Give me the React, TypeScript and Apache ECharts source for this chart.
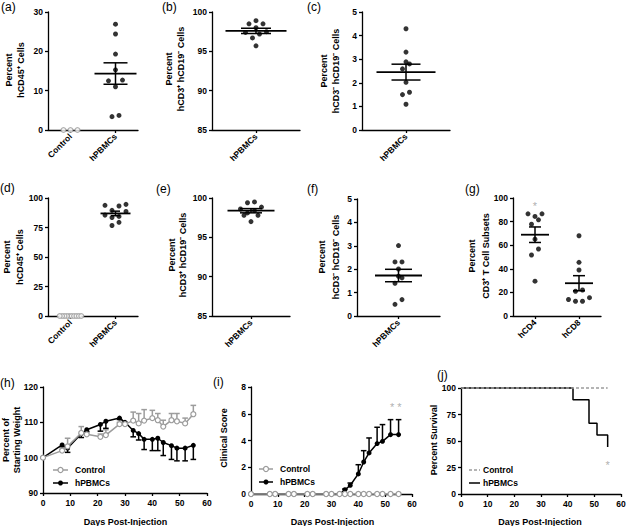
import React, { useEffect, useRef } from 'react';
import * as echarts from 'echarts';

const FONT = '"Liberation Sans", Arial, Helvetica, sans-serif';
const BLACK = '#000000';
const GRAY = '#9c9c9c';

// ---------- data: dot plots ----------
const A_CATEGORIES = ['Control', 'hPBMCs'];
const A_Y_TICKS = [0, 10, 20, 30];
const A_CONTROL = [0, 0, 0];
const A_HPBMC = [26.9, 24.4, 19.3, 15.3, 12.5, 12.7, 11.0, 3.4, 3.7];

const B_CATEGORIES = ['hPBMCs'];
const B_Y_TICKS = [85, 90, 95, 100];
const B_HPBMC = [98.5, 98.0, 98.5, 98.9, 97.5, 97.2, 97.4, 96.7, 95.7];

const C_CATEGORIES = ['hPBMCs'];
const C_Y_TICKS = [0, 1, 2, 3, 4, 5];
const C_HPBMC = [4.29, 3.3, 2.8, 2.89, 2.59, 2.02, 1.6, 1.5, 1.09];

const D_CATEGORIES = ['Control', 'hPBMCs'];
const D_Y_TICKS = [0, 25, 50, 75, 100];
const D_CONTROL = [0, 0, 0, 0, 0, 0, 0, 0, 0, 0];
const D_HPBMC = [93.8, 93.2, 94.6, 89.5, 88.6, 85.5, 84.4, 83.5, 79.4, 76.7];

const E_CATEGORIES = ['hPBMCs'];
const E_Y_TICKS = [85, 90, 95, 100];
const E_HPBMC = [99.4, 99.5, 98.6, 98.85, 98.4, 97.8, 98.1, 97.8, 97.0];

const F_CATEGORIES = ['hPBMCs'];
const F_Y_TICKS = [0, 1, 2, 3, 4, 5];
const F_HPBMC = [3.01, 2.31, 2.31, 2.01, 1.63, 1.7, 1.4, 0.5, 0.7];

const G_CATEGORIES = ['hCD4', 'hCD8'];
const G_Y_TICKS = [0, 20, 40, 60, 80, 100];
const G_CD4 = [86.6, 84.4, 86.6, 81.5, 77.8, 65.1, 56.8, 51.7, 29.5];
const G_CD8 = [68, 45.5, 39, 22, 21, 15.5, 14, 12.5, 12.5];
const G_STAR = [[0, 93.6]];

// ---------- data: time courses ----------
const DAYS = [0, 7, 9, 14, 16, 21, 23, 28, 30, 33, 35, 37, 40, 42, 44, 47, 49, 52, 55];
const X_TICKS = [0, 10, 20, 30, 40, 50, 60];

const H_Y_TICKS = [90, 100, 110, 120];
const H_CONTROL = [100, 102.0, 103.2, 107.0, 106.6, 105.9, 106.4, 109.5, 109.5, 110.5, 109.7, 110.5, 111.2, 110.6, 108.8, 110.6, 110.3, 109.7, 112.3];
const H_CONTROL_SEM = [0, 0.4, 2.3, 1.8, 0.5, 0.8, 1.5, 0.5, 0.6, 2.4, 2.8, 3.1, 2.2, 1.9, 1.8, 1.9, 2.2, 1.5, 2.5];
const H_HPBMC = [100, 103.6, 102.7, 106.8, 107.9, 109.4, 110.3, 111.2, 110.0, 107.7, 106.8, 105.2, 105.2, 105.5, 104.3, 103.4, 102.7, 102.7, 103.5];
const H_HPBMC_SEM = [0, 0.5, 1.2, 1.1, 0.5, 1.9, 2.0, 0.4, 0.6, 1.8, 1.8, 2.9, 3.2, 3.5, 3.7, 3.9, 3.6, 3.6, 4.0];

const I_Y_TICKS = [0, 2, 4, 6, 8];
const I_CONTROL = [0, 0, 0, 0, 0, 0, 0, 0, 0, 0, 0, 0, 0, 0, 0, 0, 0, 0, 0];
const I_HPBMC = [0, 0, 0, 0, 0, 0, 0, 0, 0, 0, 0.32, 0.65, 1.5, 2.39, 3.07, 3.77, 3.94, 4.44, 4.44];
const I_HPBMC_SEM = [0, 0, 0, 0, 0, 0, 0, 0, 0, 0, 0.05, 0.17, 0.69, 0.85, 1.12, 1.22, 1.25, 1.12, 1.12];
const I_STARS = [[52.6, 6.47], [55.3, 6.47]];

const J_Y_TICKS = [0, 25, 50, 75, 100];
const J_CONTROL_DAYS = [0, 55];
const J_CONTROL = [100, 100];
const J_HPBMC_DAYS = [0, 42, 48, 51, 55];
const J_HPBMC = [100, 88.9, 66.7, 55.6, 44.4];
const J_STAR = [[55, 27.8]];

// ---------- helpers ----------
function swarm(values: number[], pxPerUnit: number, catW: number) {
  const spacing = 7;
  const rowTol = 7;
  const maxHalf = 0.24 * catW;
  const idx = values.map((_, i) => i).sort((a, b) => values[a] - values[b]);
  const offsets = new Array(values.length).fill(0);
  let row: number[] = [];
  let start = 0;
  const flush = () => {
    const k = row.length;
    let s = spacing;
    if (k > 1 && ((k - 1) * s) / 2 > maxHalf) s = (2 * maxHalf) / (k - 1);
    row.forEach((id, j) => {
      let off = 0;
      if (k % 2 === 1) {
        const m = Math.ceil(j / 2);
        off = j === 0 ? 0 : j % 2 === 1 ? -m * s : m * s;
      } else {
        const m = Math.floor(j / 2);
        off = (j % 2 === 0 ? -1 : 1) * (m + 0.5) * s;
      }
      offsets[id] = off / catW;
    });
    row = [];
  };
  idx.forEach((id) => {
    const y = values[id] * pxPerUnit;
    if (row.length && y - start > rowTol) flush();
    if (!row.length) start = y;
    row.push(id);
  });
  if (row.length) flush();
  return offsets;
}

function meanSem(v: number[]) {
  const n = v.length;
  const m = v.reduce((a, b) => a + b, 0) / n;
  const sd = Math.sqrt(v.reduce((a, b) => a + (b - m) * (b - m), 0) / (n - 1));
  return [m, sd / Math.sqrt(n)];
}

type Group = { values: number[]; open?: boolean };
type DotPanel = {
  grid: { left: number; top: number; width: number; height: number };
  yTicks: number[];
  cats: string[];
  groups: Group[];
  meanW: number;
  capW: number;
  stars?: number[][];
};

const DOT_PANELS: DotPanel[] = [
  { grid: { left: 48, top: 12, width: 90, height: 118 }, yTicks: A_Y_TICKS, cats: A_CATEGORIES, groups: [{ values: A_CONTROL, open: true }, { values: A_HPBMC }], meanW: 42, capW: 24 },
  { grid: { left: 212, top: 12, width: 88, height: 118 }, yTicks: B_Y_TICKS, cats: B_CATEGORIES, groups: [{ values: B_HPBMC }], meanW: 61, capW: 30 },
  { grid: { left: 362, top: 12, width: 88, height: 118 }, yTicks: C_Y_TICKS, cats: C_CATEGORIES, groups: [{ values: C_HPBMC }], meanW: 59, capW: 29 },
  { grid: { left: 48, top: 198, width: 90, height: 118 }, yTicks: D_Y_TICKS, cats: D_CATEGORIES, groups: [{ values: D_CONTROL, open: true }, { values: D_HPBMC }], meanW: 30, capW: 9 },
  { grid: { left: 212, top: 198, width: 78, height: 118 }, yTicks: E_Y_TICKS, cats: E_CATEGORIES, groups: [{ values: E_HPBMC }], meanW: 47, capW: 22 },
  { grid: { left: 357, top: 199, width: 83, height: 117 }, yTicks: F_Y_TICKS, cats: F_CATEGORIES, groups: [{ values: F_HPBMC }], meanW: 47, capW: 27 },
  { grid: { left: 513, top: 198, width: 88, height: 118 }, yTicks: G_Y_TICKS, cats: G_CATEGORIES, groups: [{ values: G_CD4 }, { values: G_CD8 }], meanW: 28, capW: 12, stars: G_STAR },
];

const axisLine = { show: true, onZero: false, lineStyle: { color: BLACK, width: 1.3 } };
const tickStyle = { show: true, length: 3, lineStyle: { color: BLACK, width: 1.3 } };
const labelStyle = { color: BLACK, fontSize: 8.5, fontWeight: 'bold', fontFamily: FONT };
const starLabel = { show: true, position: 'inside', formatter: '*', color: '#999999', fontSize: 11, fontFamily: FONT };

function buildOption() {
  const grids: any[] = [];
  const xAxes: any[] = [];
  const yAxes: any[] = [];
  const series: any[] = [];

  DOT_PANELS.forEach((p) => {
    const gi = grids.length;
    grids.push({ ...p.grid, containLabel: false, outerBoundsMode: 'none' });
    xAxes.push({
      type: 'category', gridIndex: gi, data: p.cats, boundaryGap: true, position: 'bottom',
      axisLine, axisTick: { ...tickStyle, alignWithLabel: true },
      axisLabel: { ...labelStyle, rotate: 45, margin: 5, interval: 0 }, splitLine: { show: false },
    });
    const valAxis = xAxes.length;
    xAxes.push({ type: 'value', gridIndex: gi, min: -0.5, max: p.cats.length - 0.5, show: false, splitLine: { show: false } });
    const yi = yAxes.length;
    const t = p.yTicks;
    yAxes.push({
      type: 'value', gridIndex: gi, min: t[0], max: t[t.length - 1], interval: t[1] - t[0],
      axisLine, axisTick: tickStyle, axisLabel: { ...labelStyle, margin: 5 }, splitLine: { show: false },
    });
    const catW = p.grid.width / p.cats.length;
    const pxPerUnit = p.grid.height / (t[t.length - 1] - t[0]);
    p.groups.forEach((g, ci) => {
      const offs = swarm(g.values, pxPerUnit, catW);
      series.push({
        type: 'scatter', xAxisIndex: valAxis, yAxisIndex: yi, clip: false, z: 3,
        data: g.values.map((v, j) => [ci + offs[j], v]),
        symbol: 'circle', symbolSize: g.open ? 4.8 : 5,
        itemStyle: g.open ? { color: '#ffffff', borderColor: GRAY, borderWidth: 1.2 } : { color: BLACK },
      });
      if (!g.open) {
        const [m, s] = meanSem(g.values);
        const mw = p.meanW;
        const cw = p.capW;
        series.push({
          type: 'custom', xAxisIndex: valAxis, yAxisIndex: yi, z: 4, clip: false,
          data: [[ci, m, m - s, m + s]],
          renderItem: (_params: any, api: any) => {
            const x = api.value(0);
            const pm = api.coord([x, api.value(1)]);
            const pl = api.coord([x, api.value(2)]);
            const ph = api.coord([x, api.value(3)]);
            const st = { stroke: BLACK, lineWidth: 1.5 };
            return {
              type: 'group',
              children: [
                { type: 'line', shape: { x1: pm[0] - mw / 2, y1: pm[1], x2: pm[0] + mw / 2, y2: pm[1] }, style: { stroke: BLACK, lineWidth: 1.8 } },
                { type: 'line', shape: { x1: pl[0], y1: pl[1], x2: ph[0], y2: ph[1] }, style: st },
                { type: 'line', shape: { x1: pl[0] - cw / 2, y1: pl[1], x2: pl[0] + cw / 2, y2: pl[1] }, style: st },
                { type: 'line', shape: { x1: ph[0] - cw / 2, y1: ph[1], x2: ph[0] + cw / 2, y2: ph[1] }, style: st },
              ],
            };
          },
        });
      }
    });
    if (p.stars) {
      series.push({
        type: 'scatter', xAxisIndex: valAxis, yAxisIndex: yi, clip: false, z: 5,
        data: p.stars, symbol: 'circle', symbolSize: 1, itemStyle: { color: 'rgba(0,0,0,0)' }, label: starLabel,
      });
    }
  });

  // time-course panels
  const addLineGrid = (g: any, yTicks: number[]) => {
    const gi = grids.length;
    grids.push({ ...g, containLabel: false, outerBoundsMode: 'none' });
    const xi = xAxes.length;
    xAxes.push({
      type: 'value', gridIndex: gi, min: X_TICKS[0], max: X_TICKS[X_TICKS.length - 1], interval: X_TICKS[1] - X_TICKS[0],
      axisLine, axisTick: tickStyle, axisLabel: { ...labelStyle, margin: 5 }, splitLine: { show: false },
    });
    const yi = yAxes.length;
    yAxes.push({
      type: 'value', gridIndex: gi, min: yTicks[0], max: yTicks[yTicks.length - 1], interval: yTicks[1] - yTicks[0],
      axisLine, axisTick: tickStyle, axisLabel: { ...labelStyle, margin: 5 }, splitLine: { show: false },
    });
    return [xi, yi];
  };

  const errSeries = (xi: number, yi: number, vals: number[], sems: number[], dir: number, color: string) => ({
    type: 'custom', xAxisIndex: xi, yAxisIndex: yi, z: 2, clip: false,
    data: DAYS.map((d, i) => [d, vals[i], vals[i] + dir * sems[i]]),
    renderItem: (_p: any, api: any) => {
      if (api.value(1) === api.value(2)) return null;
      const a = api.coord([api.value(0), api.value(1)]);
      const b = api.coord([api.value(0), api.value(2)]);
      const st = { stroke: color, lineWidth: 1.5 };
      return {
        type: 'group',
        children: [
          { type: 'line', shape: { x1: a[0], y1: a[1], x2: b[0], y2: b[1] }, style: st },
          { type: 'line', shape: { x1: b[0] - 2.8, y1: b[1], x2: b[0] + 2.8, y2: b[1] }, style: st },
        ],
      };
    },
  });

  const lineSeries = (xi: number, yi: number, name: string, vals: number[], open: boolean, z: number) => ({
    type: 'line', name, xAxisIndex: xi, yAxisIndex: yi, z, clip: false,
    data: DAYS.map((d, i) => [d, vals[i]]),
    symbol: 'circle', symbolSize: 5, showSymbol: true,
    lineStyle: { color: open ? GRAY : BLACK, width: 1.5 },
    itemStyle: open ? { color: '#ffffff', borderColor: GRAY, borderWidth: 1.2 } : { color: BLACK },
  });

  // (h)
  {
    const [xi, yi] = addLineGrid({ left: 43, top: 387, width: 164, height: 106 }, H_Y_TICKS);
    series.push(errSeries(xi, yi, H_HPBMC, H_HPBMC_SEM, -1, BLACK));
    series.push(lineSeries(xi, yi, 'hPBMCs', H_HPBMC, false, 3));
    series.push(errSeries(xi, yi, H_CONTROL, H_CONTROL_SEM, 1, GRAY));
    series.push(lineSeries(xi, yi, 'Control', H_CONTROL, true, 4));
  }
  // (i)
  {
    const [xi, yi] = addLineGrid({ left: 251, top: 387, width: 161, height: 107 }, I_Y_TICKS);
    series.push(errSeries(xi, yi, I_HPBMC, I_HPBMC_SEM, 1, BLACK));
    series.push(lineSeries(xi, yi, 'hPBMCs', I_HPBMC, false, 3));
    series.push(lineSeries(xi, yi, 'Control', I_CONTROL, true, 4));
    series.push({
      type: 'scatter', xAxisIndex: xi, yAxisIndex: yi, clip: false, z: 5,
      data: I_STARS, symbol: 'circle', symbolSize: 1, itemStyle: { color: 'rgba(0,0,0,0)' }, label: starLabel,
    });
  }
  // (j)
  {
    const [xi, yi] = addLineGrid({ left: 461, top: 388, width: 160, height: 106 }, J_Y_TICKS);
    series.push({
      type: 'line', name: 'hPBMCs', xAxisIndex: xi, yAxisIndex: yi, z: 3, clip: false, step: 'end',
      data: J_HPBMC_DAYS.map((d, i) => [d, J_HPBMC[i]]), showSymbol: false, symbol: 'none',
      lineStyle: { color: BLACK, width: 1.5 },
    });
    series.push({
      type: 'line', name: 'Control', xAxisIndex: xi, yAxisIndex: yi, z: 4, clip: false,
      data: J_CONTROL_DAYS.map((d, i) => [d, J_CONTROL[i]]), showSymbol: false, symbol: 'none',
      lineStyle: { color: GRAY, width: 1.5, type: [3, 2] },
    });
    series.push({
      type: 'scatter', xAxisIndex: xi, yAxisIndex: yi, clip: false, z: 5,
      data: J_STAR, symbol: 'circle', symbolSize: 1, itemStyle: { color: 'rgba(0,0,0,0)' }, label: starLabel,
    });
  }

  // ---------- texts ----------
  const g: any[] = [];
  const txt = (text: string, x: number, y: number, opts: any = {}) =>
    g.push({
      type: 'text', x, y, rotation: opts.rot ? Math.PI / 2 : 0, z: 10,
      style: {
        text, fill: BLACK, fontFamily: FONT, fontSize: opts.size || 9, fontWeight: opts.weight || 'bold',
        align: opts.align || 'center', verticalAlign: 'middle',
      },
    });
  const panel = (t: string, x: number, y: number) => txt(t, x, y, { size: 12, weight: 'normal', align: 'left' });
  panel('(a)', 1, 7); panel('(b)', 162, 7); panel('(c)', 307, 7);
  panel('(d)', 0, 188); panel('(e)', 156, 189); panel('(f)', 307, 189); panel('(g)', 465, 189);
  panel('(h)', 0, 383); panel('(i)', 213, 382); panel('(j)', 437, 375);

  const yt = (t: string, x: number, y: number) => txt(t, x, y, { rot: true });
  yt('Percent', 8.5, 70); yt('hCD45\u207A Cells', 21, 70);
  yt('Percent', 169, 69); yt('hCD3\u207A hCD19\u207B Cells', 181, 69);
  yt('Percent', 324, 71); yt('hCD3\u207B hCD19\u207B Cells', 336, 71);
  yt('Percent', 7, 257); yt('hCD45\u207A Cells', 19.5, 257);
  yt('Percent', 172, 255); yt('hCD3\u207A hCD19\u207B Cells', 182.5, 255);
  yt('Percent', 322, 257); yt('hCD3\u207B hCD19\u207B Cells', 335.5, 257);
  yt('Percent', 472, 256); yt('CD3\u207A T Cell Subsets', 486, 256);
  yt('Percent of', 6.3, 440); yt('Starting Weight', 16.5, 440);
  yt('Clinical Score', 224, 438);
  yt('Percent Survival', 434, 440);

  txt('Days Post-Injection', 125.5, 522);
  txt('Days Post-Injection', 332.5, 522);
  txt('Days Post-Injection', 540, 522);

  // legends
  const legendDot = (x1: number, x2: number, y: number, open: boolean, label: string) => {
    const c = open ? GRAY : BLACK;
    g.push({ type: 'line', z: 10, shape: { x1, y1: y, x2, y2: y }, style: { stroke: c, lineWidth: 1.5 } });
    g.push({ type: 'circle', z: 11, shape: { cx: (x1 + x2) / 2, cy: y, r: 2.5 }, style: open ? { fill: '#fff', stroke: GRAY, lineWidth: 1.2 } : { fill: BLACK } });
    txt(label, x2 + 7, y, { size: 8.5, align: 'left' });
  };
  legendDot(53, 68, 470, true, 'Control');
  legendDot(53, 68, 483, false, 'hPBMCs');
  legendDot(259, 273, 469, true, 'Control');
  legendDot(259, 273, 482, false, 'hPBMCs');
  g.push({ type: 'line', z: 10, shape: { x1: 469, y1: 470, x2: 480, y2: 470 }, style: { stroke: GRAY, lineWidth: 1.5, lineDash: [3, 2] } });
  txt('Control', 483, 470, { size: 8.5, align: 'left' });
  g.push({ type: 'line', z: 10, shape: { x1: 469, y1: 483, x2: 480, y2: 483 }, style: { stroke: BLACK, lineWidth: 1.5 } });
  txt('hPBMCs', 483, 483, { size: 8.5, align: 'left' });

  return {
    animation: false,
    backgroundColor: '#ffffff',
    textStyle: { fontFamily: FONT },
    grid: grids,
    xAxis: xAxes,
    yAxis: yAxes,
    series,
    graphic: g,
  };
}

export default function App() {
  const ref = useRef<HTMLDivElement>(null);
  useEffect(() => {
    document.body.style.margin = '0';
    if (!ref.current) return;
    const chart = echarts.init(ref.current, undefined, { renderer: 'svg' });
    chart.setOption(buildOption() as any);
    return () => chart.dispose();
  }, []);
  return <div ref={ref} style={{ width: 628, height: 526 }} />;
}
